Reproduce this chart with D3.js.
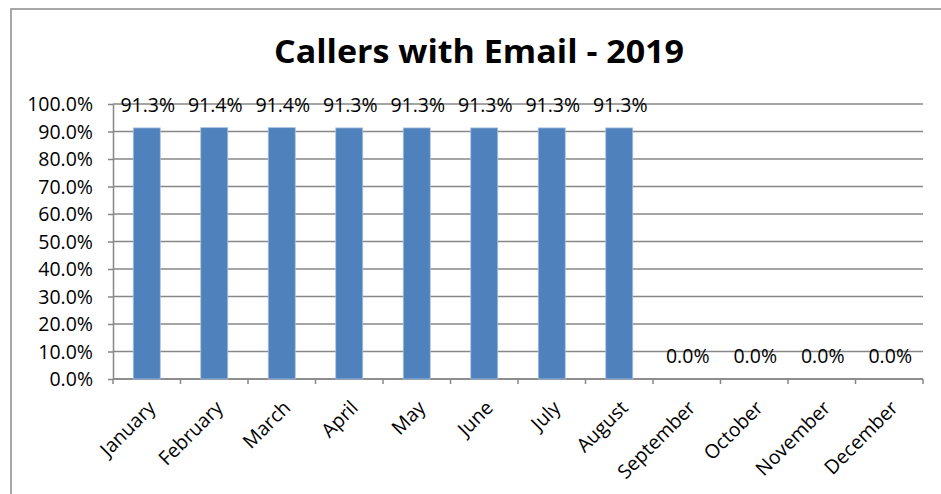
<!DOCTYPE html>
<meta charset="utf-8">
<style>
body { margin: 0; background: #fff; }
text { font-family: "Open Sans", Lato, sans-serif; fill: #000; }
.title { font-size: 32px; font-weight: bold; text-anchor: middle; }
.lbl { font-size: 19.5px; }
.grid line { stroke: #878787; stroke-width: 1.5px; }
.axis line, .axis path { stroke: #878787; stroke-width: 1.5px; fill: none; }
</style>
<svg width="941" height="494"></svg>
<script src="https://d3js.org/d3.v7.min.js"></script>
<script>

// monthly share of callers that gave an email address
var months = ["January", "February", "March", "April", "May", "June",
              "July", "August", "September", "October", "November", "December"];
var pctWithEmail = [91.3, 91.4, 91.4, 91.3, 91.3, 91.3, 91.3, 91.3, 0.0, 0.0, 0.0, 0.0];
var yTickValues = [0, 10, 20, 30, 40, 50, 60, 70, 80, 90, 100];

var svg = d3.select("svg"),
    plotLeft = 113, plotRight = 923, plotTop = 104, plotBottom = 379;

// chart frame (runs off the right and bottom of the picture)
svg.append("rect")
    .attr("x", 11).attr("y", 9)
    .attr("width", 960).attr("height", 520)
    .attr("fill", "none")
    .attr("stroke", "#8a8a8a")
    .attr("stroke-width", 1.5);

svg.append("text")
    .attr("class", "title")
    .attr("x", 479)
    .attr("y", 63)
    .attr("textLength", 410)
    .attr("lengthAdjust", "spacingAndGlyphs")
    .text("Callers with Email - 2019");

var x = d3.scaleBand()
    .domain(months)
    .range([plotLeft, plotRight])
    .paddingInner(0.6)
    .paddingOuter(0.3);

var y = d3.scaleLinear()
    .domain([0, 100])
    .range([plotBottom, plotTop]);

// horizontal gridlines
svg.append("g")
    .attr("class", "grid")
    .selectAll("line")
    .data(yTickValues)
    .enter().append("line")
      .attr("x1", plotLeft).attr("x2", plotRight)
      .attr("y1", function(d) { return y(d); })
      .attr("y2", function(d) { return y(d); });

// y axis
var yAxis = svg.append("g")
    .attr("class", "axis")
    .attr("transform", "translate(" + plotLeft + ",0)")
    .call(d3.axisLeft(y).tickValues(yTickValues).tickSize(5).tickSizeOuter(0)
      .tickFormat(function(d) { return d.toFixed(1) + "%"; }));
yAxis.attr("font-size", null).attr("font-family", null);
yAxis.selectAll("text")
    .attr("class", "lbl")
    .attr("x", -20)
    .attr("dy", "0.35em");

// x axis with ticks on category boundaries
var boundaries = d3.range(months.length + 1).map(function(i) { return plotLeft + i * x.step(); });
var xAxis = svg.append("g").attr("class", "axis");
xAxis.append("line")
    .attr("x1", plotLeft).attr("x2", plotRight)
    .attr("y1", plotBottom).attr("y2", plotBottom);
xAxis.selectAll(".tk")
    .data(boundaries)
    .enter().append("line")
      .attr("class", "tk")
      .attr("x1", function(d) { return d; }).attr("x2", function(d) { return d; })
      .attr("y1", plotBottom).attr("y2", plotBottom + 5);

xAxis.selectAll(".mlbl")
    .data(months)
    .enter().append("text")
      .attr("class", "lbl mlbl")
      .attr("text-anchor", "end")
      .attr("transform", function(d) {
        return "translate(" + (x(d) + x.bandwidth() / 2 + 10) + "," + 409 + ") rotate(-45)";
      })
      .text(function(d) { return d; });

// bars
var data = months.map(function(m, i) { return { month: m, value: pctWithEmail[i] }; });

svg.selectAll(".bar")
    .data(data)
    .enter().append("rect")
      .attr("class", "bar")
      .attr("x", function(d) { return x(d.month); })
      .attr("y", function(d) { return y(d.value); })
      .attr("width", x.bandwidth())
      .attr("height", function(d) { return plotBottom - y(d.value); })
      .attr("fill", "#4f81bd")
      .attr("stroke", "#a9c1df")
      .attr("stroke-width", 0.8);

svg.selectAll(".val")
    .data(data)
    .enter().append("text")
      .attr("class", "lbl val")
      .attr("text-anchor", "middle")
      .attr("x", function(d) { return x(d.month) + x.bandwidth() / 2 + 1; })
      .attr("y", function(d) { return y(d.value) - 16; })
      .text(function(d) { return d.value.toFixed(1) + "%"; });

</script>
